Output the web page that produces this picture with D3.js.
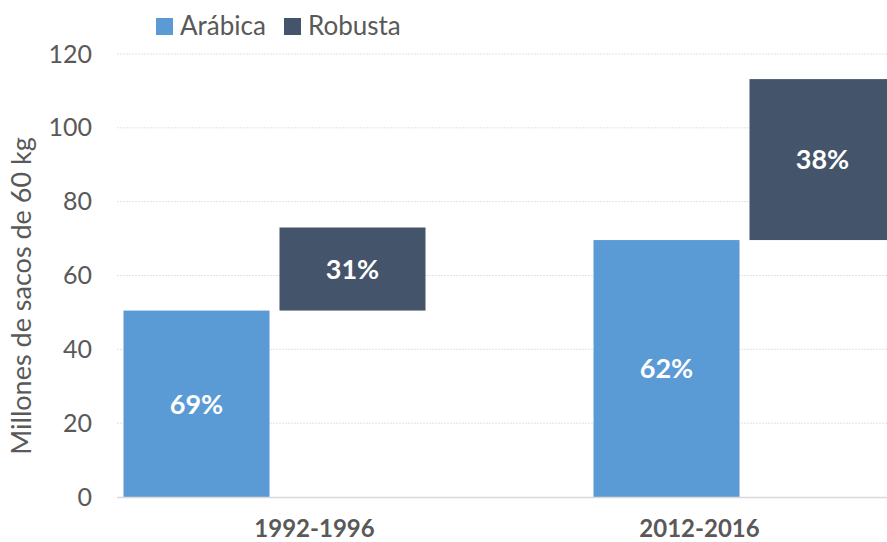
<!DOCTYPE html>
<html>
<head>
<meta charset="utf-8">
<script src="https://cdn.jsdelivr.net/npm/d3@7"></script>
<style>
  body { margin: 0; background: #fff; }
  svg { display: block; font-family: Lato, "Open Sans", sans-serif; font-variant-numeric: tabular-nums; }
</style>
</head>
<body>
<svg id="chart" width="887" height="542"></svg>
<script>
const categories = ["1992-1996", "2012-2016"];
const series = ["Arábica", "Robusta"];
// millones de sacos
const arabica = [50.5, 69.6];
const robusta = [22.5, 43.6];
const shareLabels = [["69%", "62%"], ["31%", "38%"]];
const yTicks = [0, 20, 40, 60, 80, 100, 120];

const COLORS = { "Arábica": "#5B9BD5", "Robusta": "#44546A" };
const TEXT = "#595959";

const svg = d3.select("#chart");

const y = d3.scaleLinear().domain([0, 120]).range([497, 54]);

// category labels sit on the plot band
const xLabel = d3.scaleBand().domain(categories).range([122, 892]);
// bars are laid on a wider band (floating stack, clipped at the right edge)
const xBar = d3.scaleBand().domain(categories).range([39.5, 979.5]);
const xSeries = d3.scaleBand().domain(series).range([84, 386]).paddingInner(0.064);

// gridlines
svg.append("g")
  .selectAll("line")
  .data(yTicks.filter(d => d > 0))
  .join("line")
  .attr("x1", 117).attr("x2", 887)
  .attr("y1", d => y(d)).attr("y2", d => y(d))
  .attr("stroke", "#e3e3e3")
  .attr("stroke-width", 1)
  .attr("stroke-dasharray", "2,1");

// y axis labels
const yAxis = svg.append("g")
  .attr("transform", "translate(117,0)")
  .call(d3.axisLeft(y).tickValues(yTicks).tickSize(0).tickPadding(25));
yAxis.select(".domain").remove();
yAxis.selectAll("text")
  .attr("fill", TEXT)
  .style("font-size", "25px")
  .style("font-family", "Lato, sans-serif");

// bars
const rows = [];
categories.forEach((c, i) => {
  rows.push({ cat: c, key: "Arábica", y0: 0, y1: arabica[i], label: shareLabels[0][i] });
  rows.push({ cat: c, key: "Robusta", y0: arabica[i], y1: arabica[i] + robusta[i], label: shareLabels[1][i] });
});

svg.append("g")
  .selectAll("rect")
  .data(rows)
  .join("rect")
  .attr("x", d => xBar(d.cat) + xSeries(d.key))
  .attr("y", d => y(d.y1))
  .attr("width", xSeries.bandwidth())
  .attr("height", d => y(d.y0) - y(d.y1))
  .attr("fill", d => COLORS[d.key]);

svg.append("g")
  .selectAll("text")
  .data(rows)
  .join("text")
  .attr("x", d => xBar(d.cat) + xSeries(d.key) + xSeries.bandwidth() / 2)
  .attr("y", d => (y(d.y0) + y(d.y1)) / 2)
  .attr("dy", "0.36em")
  .attr("text-anchor", "middle")
  .attr("fill", "#fff")
  .style("font-size", "27px")
  .style("font-weight", "bold")
  .text(d => d.label);

// x axis line
svg.append("line")
  .attr("x1", 117).attr("x2", 887)
  .attr("y1", y(0) + 0.5).attr("y2", y(0) + 0.5)
  .attr("stroke", "#d9d9d9")
  .attr("stroke-width", 1.5);

// category labels
svg.append("g")
  .selectAll("text")
  .data(categories)
  .join("text")
  .attr("x", d => xLabel(d) + xLabel.bandwidth() / 2)
  .attr("y", 537)
  .attr("text-anchor", "middle")
  .attr("fill", TEXT)
  .style("font-size", "24px")
  .style("font-weight", "bold")
  .text(d => d);

// y title
svg.append("text")
  .attr("transform", "translate(31,296) rotate(-90)")
  .attr("text-anchor", "middle")
  .attr("fill", TEXT)
  .style("font-size", "27px")
  .text("Millones de sacos de 60 kg");

// legend
const legendX = [156, 284];
const legend = svg.append("g")
  .selectAll("g")
  .data(series)
  .join("g")
  .attr("transform", (d, i) => `translate(${legendX[i]},18)`);
legend.append("rect")
  .attr("width", 17).attr("height", 17)
  .attr("fill", d => COLORS[d]);
legend.append("text")
  .attr("x", 24)
  .attr("y", 17)
  .attr("fill", TEXT)
  .style("font-size", "26px")
  .text(d => d);
</script>
</body>
</html>
